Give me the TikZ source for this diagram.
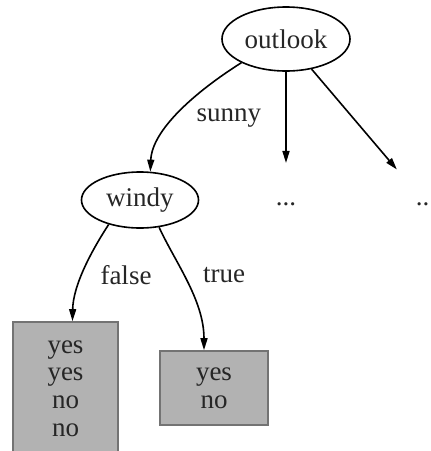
\documentclass[tikz,border=0pt]{standalone}
\usepackage{fontspec}
\setmainfont{Liberation Serif}
\usetikzlibrary{arrows.meta,shapes.geometric}
\begin{document}
\begin{tikzpicture}[x=1pt,y=-1pt,
  every node/.style={font=\fontsize{27}{27.7}\selectfont, text=black!85},
  test/.style={draw, ellipse, line width=1.6pt, inner sep=0pt},
  leaf/.style={draw=black!55, fill=black!30, line width=1.6pt, align=center, inner sep=0pt},
  lbl/.style={inner sep=1pt},
  dotsnode/.style={anchor=base, inner sep=2pt},
  arc/.style={line width=1.6pt, -{Triangle[length=12pt,width=7pt]}},
]
\useasboundingbox (0,0) rectangle (431,451);

% decision nodes
\node[test, minimum width=128pt, minimum height=64pt] (outlook) at (286,39) {outlook};
\node[test, minimum width=117pt, minimum height=56pt] (windy) at (140,200) {windy};

% unexpanded branches
\node[dotsnode] (dots1) at (286,205) {...};
\node[dotsnode] (dots2) at (426,205) {...};

% leaves
\node[leaf, minimum width=105pt, minimum height=133pt] (leafA) at (65.5,388.5) {yes\\yes\\no\\no};
\node[leaf, minimum width=108pt, minimum height=74pt] (leafB) at (214,388) {yes\\no};

% branches
\draw[arc] (outlook.208) .. controls (195,92) and (152,130) .. (windy.70);
\draw[arc, shorten >=37pt] (outlook) -- (dots1);
\draw[arc, shorten >=40pt] (outlook) -- (dots2);
\draw[arc] (windy.218) .. controls (92,250) and (73,285) .. ([xshift=7pt]leafA.north);
\draw[arc] (windy.305) .. controls (175,262) and (204,300) .. ([xshift=-10pt]leafB.north);

% branch labels
\node[lbl] (lsunny) at (229,118) {sunny};
\node[lbl] (lfalse) at (126,275) {false};
\node[lbl] (ltrue) at (224,275) {true};
\end{tikzpicture}
\end{document}
